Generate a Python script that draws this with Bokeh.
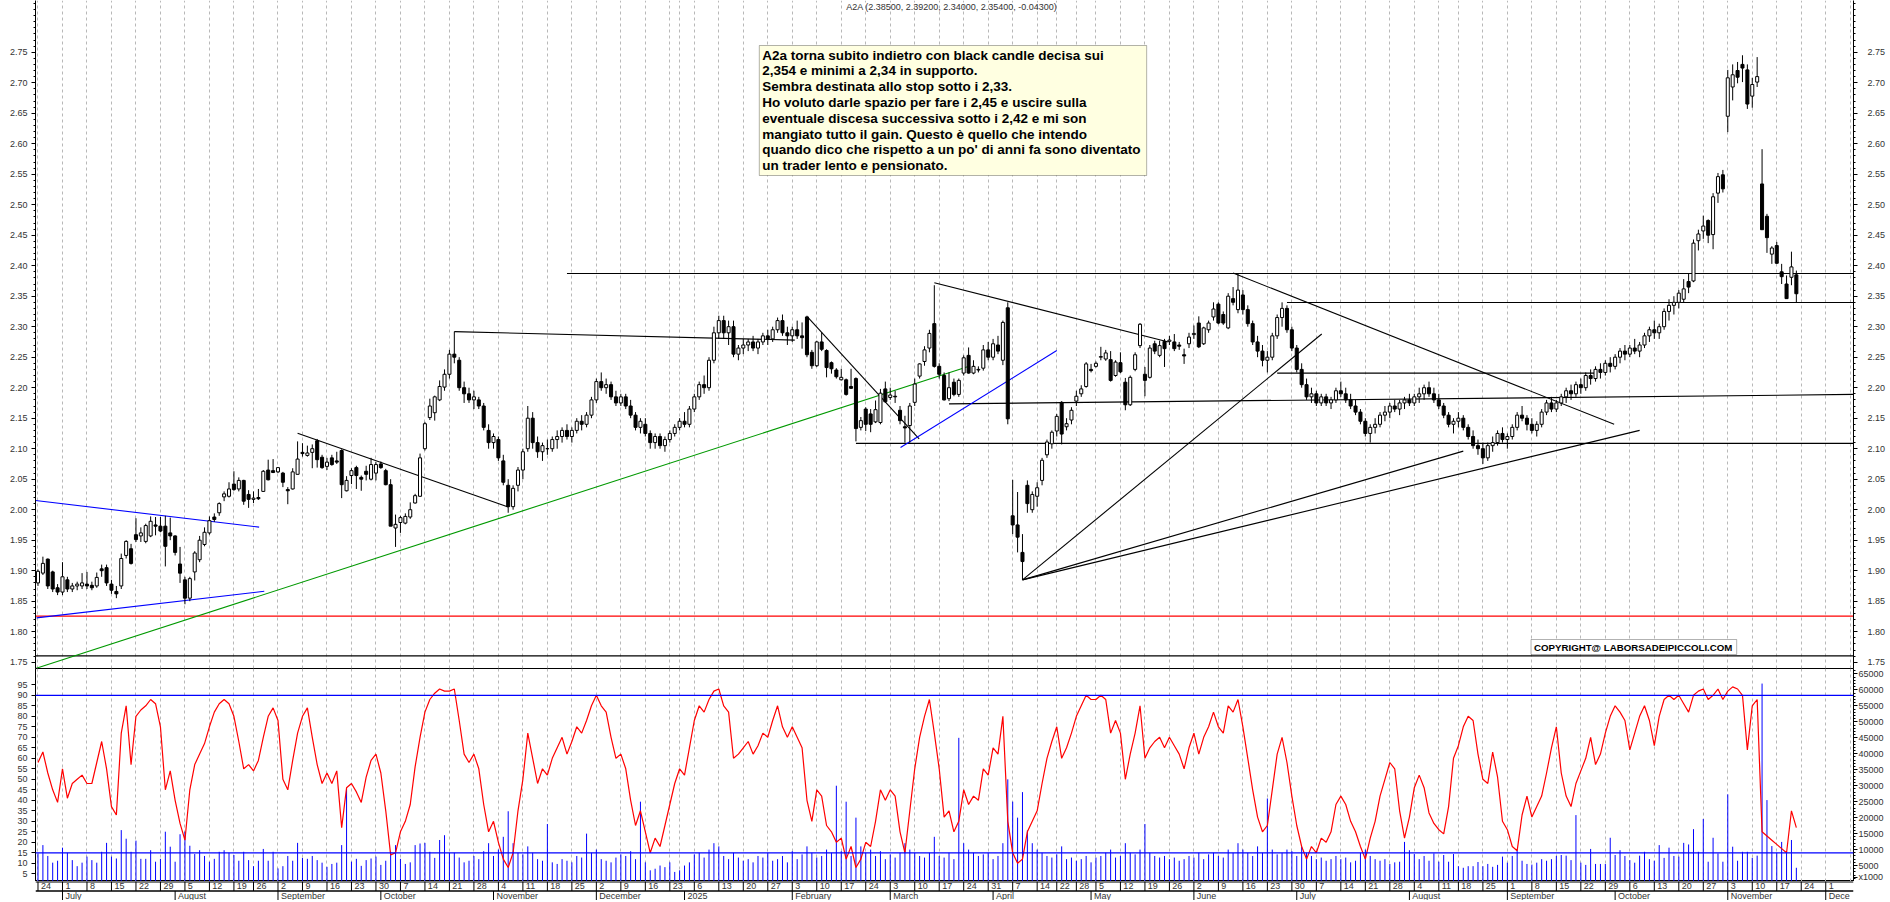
import pandas as pd
from bokeh.plotting import figure
from bokeh.layouts import column
from bokeh.models import (Range1d, LinearAxis, Span, BoxAnnotation, Label, FixedTicker,
                          NumeralTickFormatter, Grid, ColumnDataSource)
from bokeh.embed import file_html
from bokeh.resources import INLINE
from bokeh.core.properties import value

# ---------------- data ----------------
first_day = "2024-06-24"
holidays = ["2024-08-23", "2024-12-24", "2024-12-25", "2024-12-26", "2024-12-31",
            "2025-01-01", "2025-04-18", "2025-04-21", "2025-05-01", "2025-08-15",
            "2025-12-24", "2025-12-25", "2025-12-26"]

opens = [
    1.880, 1.896, 1.919, 1.898, 1.872, 1.865, 1.885, 1.870, 1.875, 1.875,
    1.878, 1.876, 1.875, 1.903, 1.905, 1.878, 1.866, 1.875, 1.925, 1.936,
    1.959, 1.957, 1.948, 1.957, 1.975, 1.973, 1.973, 1.962, 1.957, 1.911,
    1.885, 1.855, 1.898, 1.918, 1.943, 1.962, 1.988, 1.995, 2.021, 2.022,
    2.042, 2.034, 2.048, 2.025, 2.017, 2.020, 2.030, 2.065, 2.064, 2.062,
    2.060, 2.033, 2.034, 2.058, 2.094, 2.089, 2.094, 2.113, 2.086, 2.071,
    2.085, 2.080, 2.097, 2.031, 2.056, 2.069, 2.053, 2.063, 2.050, 2.060,
    2.075, 2.064, 2.041, 1.970, 1.979, 1.978, 1.988, 2.011, 2.022, 2.100,
    2.151, 2.159, 2.180, 2.201, 2.222, 2.255, 2.245, 2.200, 2.190, 2.180,
    2.180, 2.170, 2.130, 2.110, 2.115, 2.080, 2.040, 2.005, 2.040, 2.065,
    2.100, 2.150, 2.110, 2.095, 2.100, 2.100, 2.115, 2.120, 2.130, 2.120,
    2.130, 2.145, 2.140, 2.155, 2.180, 2.210, 2.200, 2.205, 2.185, 2.175,
    2.185, 2.170, 2.155, 2.135, 2.140, 2.125, 2.110, 2.120, 2.105, 2.115,
    2.125, 2.135, 2.145, 2.140, 2.165, 2.185, 2.205, 2.200, 2.245, 2.290,
    2.310, 2.290, 2.300, 2.255, 2.265, 2.270, 2.275, 2.265, 2.275, 2.285,
    2.280, 2.295, 2.310, 2.290, 2.285, 2.295, 2.285, 2.316, 2.258, 2.236,
    2.275, 2.261, 2.241, 2.229, 2.213, 2.213, 2.202, 2.215, 2.135, 2.165,
    2.157, 2.144, 2.143, 2.198, 2.184, 2.186, 2.163, 2.136, 2.138, 2.176,
    2.219, 2.243, 2.265, 2.305, 2.235, 2.220, 2.182, 2.209, 2.189, 2.224,
    2.253, 2.224, 2.229, 2.232, 2.262, 2.250, 2.270, 2.245, 2.331, 1.990,
    1.975, 1.930, 2.040, 2.000, 2.022, 2.048, 2.090, 2.108, 2.129, 2.176,
    2.136, 2.147, 2.178, 2.190, 2.202, 2.230, 2.235, 2.250, 2.247, 2.246,
    2.220, 2.241, 2.209, 2.172, 2.230, 2.269, 2.222, 2.217, 2.272, 2.253,
    2.276, 2.276, 2.275, 2.270, 2.254, 2.272, 2.287, 2.306, 2.272, 2.295,
    2.316, 2.337, 2.320, 2.298, 2.346, 2.328, 2.352, 2.328, 2.305, 2.275,
    2.260, 2.245, 2.250, 2.285, 2.315, 2.330, 2.295, 2.265, 2.230, 2.205,
    2.185, 2.190, 2.175, 2.185, 2.175, 2.180, 2.195, 2.190, 2.180, 2.170,
    2.160, 2.145, 2.125, 2.135, 2.140, 2.155, 2.160, 2.170, 2.165, 2.175,
    2.180, 2.175, 2.185, 2.190, 2.200, 2.190, 2.180, 2.170, 2.155, 2.140,
    2.145, 2.150, 2.135, 2.120, 2.105, 2.100, 2.085, 2.105, 2.110, 2.125,
    2.115, 2.120, 2.135, 2.155, 2.150, 2.140, 2.130, 2.140, 2.160, 2.175,
    2.165, 2.175, 2.185, 2.195, 2.190, 2.205, 2.200, 2.220, 2.215, 2.230,
    2.225, 2.240, 2.235, 2.250, 2.260, 2.255, 2.265, 2.260, 2.270, 2.285,
    2.295, 2.290, 2.300, 2.325, 2.335, 2.340, 2.345, 2.374, 2.375, 2.441,
    2.457, 2.474, 2.451, 2.519, 2.549, 2.645, 2.693, 2.720, 2.730, 2.721,
    2.678, 2.701, 2.534, 2.481, 2.419, 2.433, 2.390, 2.370, 2.381, 2.385]
highs = [
    1.902, 1.923, 1.920, 1.900, 1.878, 1.914, 1.890, 1.880, 1.882, 1.896,
    1.898, 1.882, 1.897, 1.910, 1.910, 1.885, 1.875, 1.928, 1.950, 1.944,
    1.986, 1.971, 1.977, 1.989, 1.988, 1.988, 1.990, 1.987, 1.958, 1.939,
    1.890, 1.890, 1.932, 1.957, 1.971, 1.989, 1.994, 2.012, 2.030, 2.045,
    2.063, 2.053, 2.049, 2.032, 2.030, 2.034, 2.065, 2.082, 2.083, 2.070,
    2.062, 2.037, 2.068, 2.112, 2.109, 2.105, 2.107, 2.116, 2.090, 2.085,
    2.090, 2.095, 2.099, 2.055, 2.068, 2.072, 2.056, 2.072, 2.085, 2.078,
    2.079, 2.067, 2.050, 1.992, 1.990, 1.994, 2.012, 2.026, 2.092, 2.144,
    2.182, 2.187, 2.212, 2.230, 2.262, 2.292, 2.250, 2.210, 2.200, 2.195,
    2.185, 2.175, 2.140, 2.125, 2.120, 2.090, 2.050, 2.040, 2.070, 2.100,
    2.170, 2.160, 2.120, 2.110, 2.115, 2.120, 2.130, 2.135, 2.140, 2.135,
    2.150, 2.155, 2.160, 2.185, 2.215, 2.225, 2.215, 2.210, 2.195, 2.190,
    2.190, 2.180, 2.160, 2.150, 2.150, 2.130, 2.125, 2.125, 2.120, 2.130,
    2.140, 2.150, 2.160, 2.170, 2.190, 2.210, 2.220, 2.250, 2.300, 2.318,
    2.318, 2.310, 2.310, 2.270, 2.280, 2.280, 2.285, 2.280, 2.290, 2.295,
    2.300, 2.315, 2.320, 2.300, 2.300, 2.310, 2.307, 2.318, 2.262, 2.277,
    2.291, 2.263, 2.243, 2.232, 2.231, 2.215, 2.231, 2.217, 2.152, 2.168,
    2.165, 2.179, 2.198, 2.210, 2.200, 2.195, 2.170, 2.154, 2.175, 2.215,
    2.240, 2.268, 2.295, 2.368, 2.240, 2.225, 2.225, 2.215, 2.215, 2.253,
    2.266, 2.245, 2.235, 2.270, 2.275, 2.280, 2.285, 2.310, 2.340, 2.049,
    2.029, 1.960, 2.048, 2.030, 2.045, 2.085, 2.115, 2.130, 2.157, 2.178,
    2.150, 2.168, 2.195, 2.204, 2.242, 2.239, 2.243, 2.267, 2.262, 2.260,
    2.245, 2.258, 2.216, 2.220, 2.258, 2.306, 2.234, 2.270, 2.277, 2.277,
    2.280, 2.285, 2.288, 2.275, 2.264, 2.290, 2.302, 2.317, 2.300, 2.310,
    2.340, 2.340, 2.325, 2.355, 2.365, 2.388, 2.360, 2.335, 2.310, 2.285,
    2.270, 2.260, 2.290, 2.320, 2.340, 2.335, 2.300, 2.270, 2.240, 2.215,
    2.200, 2.195, 2.190, 2.190, 2.185, 2.200, 2.210, 2.200, 2.190, 2.180,
    2.165, 2.150, 2.140, 2.150, 2.160, 2.170, 2.175, 2.180, 2.180, 2.185,
    2.190, 2.190, 2.200, 2.205, 2.210, 2.200, 2.190, 2.175, 2.160, 2.150,
    2.160, 2.155, 2.140, 2.130, 2.115, 2.110, 2.110, 2.120, 2.130, 2.135,
    2.125, 2.140, 2.160, 2.170, 2.155, 2.150, 2.145, 2.165, 2.180, 2.185,
    2.180, 2.190, 2.200, 2.205, 2.210, 2.215, 2.225, 2.230, 2.235, 2.240,
    2.245, 2.250, 2.255, 2.265, 2.270, 2.270, 2.280, 2.275, 2.290, 2.300,
    2.310, 2.305, 2.330, 2.345, 2.350, 2.360, 2.378, 2.388, 2.443, 2.459,
    2.482, 2.476, 2.519, 2.552, 2.557, 2.721, 2.730, 2.734, 2.745, 2.730,
    2.708, 2.742, 2.591, 2.485, 2.432, 2.439, 2.403, 2.384, 2.423, 2.392]
lows = [
    1.875, 1.893, 1.870, 1.865, 1.860, 1.860, 1.865, 1.865, 1.868, 1.870,
    1.870, 1.868, 1.872, 1.890, 1.875, 1.862, 1.855, 1.870, 1.920, 1.910,
    1.947, 1.947, 1.945, 1.955, 1.958, 1.963, 1.907, 1.950, 1.925, 1.880,
    1.845, 1.850, 1.884, 1.914, 1.940, 1.959, 1.980, 1.990, 2.014, 2.020,
    2.031, 2.030, 2.008, 2.003, 2.011, 2.016, 2.029, 2.048, 2.060, 2.060,
    2.037, 2.009, 2.033, 2.058, 2.087, 2.087, 2.068, 2.069, 2.067, 2.065,
    2.072, 2.075, 2.019, 2.030, 2.042, 2.034, 2.031, 2.048, 2.048, 2.048,
    2.067, 2.040, 1.973, 1.939, 1.962, 1.976, 1.985, 2.010, 2.021, 2.097,
    2.147, 2.146, 2.178, 2.195, 2.215, 2.240, 2.195, 2.175, 2.175, 2.165,
    2.165, 2.130, 2.100, 2.100, 2.080, 2.040, 1.995, 2.000, 2.030, 2.050,
    2.095, 2.100, 2.085, 2.080, 2.090, 2.095, 2.100, 2.110, 2.115, 2.110,
    2.125, 2.130, 2.135, 2.150, 2.175, 2.195, 2.190, 2.180, 2.170, 2.170,
    2.165, 2.150, 2.130, 2.125, 2.120, 2.100, 2.100, 2.100, 2.095, 2.110,
    2.120, 2.130, 2.135, 2.135, 2.160, 2.180, 2.190, 2.195, 2.240, 2.280,
    2.280, 2.270, 2.250, 2.245, 2.255, 2.260, 2.260, 2.255, 2.270, 2.270,
    2.275, 2.290, 2.285, 2.270, 2.275, 2.280, 2.264, 2.250, 2.231, 2.234,
    2.260, 2.217, 2.223, 2.215, 2.212, 2.187, 2.198, 2.112, 2.130, 2.129,
    2.127, 2.142, 2.140, 2.175, 2.180, 2.175, 2.140, 2.110, 2.110, 2.170,
    2.215, 2.236, 2.258, 2.233, 2.215, 2.179, 2.178, 2.186, 2.185, 2.220,
    2.223, 2.222, 2.225, 2.228, 2.245, 2.245, 2.255, 2.237, 2.140, 1.960,
    1.930, 1.885, 1.995, 1.995, 2.005, 2.040, 2.085, 2.100, 2.120, 2.107,
    2.130, 2.140, 2.170, 2.185, 2.200, 2.225, 2.233, 2.245, 2.244, 2.210,
    2.218, 2.224, 2.163, 2.170, 2.227, 2.265, 2.186, 2.215, 2.255, 2.250,
    2.234, 2.270, 2.260, 2.262, 2.239, 2.265, 2.280, 2.265, 2.270, 2.290,
    2.310, 2.304, 2.303, 2.296, 2.335, 2.322, 2.320, 2.300, 2.270, 2.250,
    2.235, 2.225, 2.245, 2.280, 2.300, 2.290, 2.260, 2.225, 2.200, 2.180,
    2.175, 2.170, 2.170, 2.170, 2.165, 2.175, 2.185, 2.175, 2.165, 2.155,
    2.140, 2.120, 2.110, 2.125, 2.135, 2.145, 2.150, 2.160, 2.155, 2.165,
    2.170, 2.170, 2.175, 2.180, 2.185, 2.175, 2.165, 2.150, 2.135, 2.125,
    2.135, 2.130, 2.115, 2.100, 2.090, 2.075, 2.080, 2.095, 2.105, 2.110,
    2.100, 2.115, 2.130, 2.145, 2.130, 2.125, 2.120, 2.135, 2.155, 2.160,
    2.160, 2.170, 2.175, 2.180, 2.185, 2.190, 2.195, 2.205, 2.210, 2.215,
    2.220, 2.225, 2.230, 2.240, 2.245, 2.250, 2.255, 2.250, 2.265, 2.275,
    2.280, 2.280, 2.295, 2.310, 2.320, 2.330, 2.340, 2.355, 2.373, 2.425,
    2.444, 2.437, 2.427, 2.503, 2.520, 2.619, 2.671, 2.699, 2.701, 2.657,
    2.659, 2.693, 2.459, 2.421, 2.403, 2.403, 2.370, 2.346, 2.368, 2.340]
closes = [
    1.899, 1.912, 1.875, 1.870, 1.865, 1.890, 1.870, 1.875, 1.878, 1.880,
    1.875, 1.872, 1.889, 1.900, 1.880, 1.868, 1.862, 1.920, 1.948, 1.912,
    1.951, 1.962, 1.974, 1.981, 1.973, 1.965, 1.940, 1.957, 1.930, 1.896,
    1.855, 1.887, 1.929, 1.950, 1.963, 1.982, 1.984, 2.010, 2.026, 2.034,
    2.033, 2.048, 2.014, 2.017, 2.019, 2.018, 2.063, 2.049, 2.061, 2.069,
    2.045, 2.031, 2.062, 2.083, 2.092, 2.093, 2.100, 2.082, 2.069, 2.078,
    2.074, 2.078, 2.041, 2.048, 2.064, 2.056, 2.050, 2.058, 2.074, 2.074,
    2.069, 2.041, 1.973, 1.976, 1.987, 1.989, 2.000, 2.023, 2.085, 2.141,
    2.170, 2.185, 2.202, 2.222, 2.255, 2.250, 2.200, 2.190, 2.180, 2.185,
    2.170, 2.135, 2.110, 2.120, 2.085, 2.045, 2.005, 2.035, 2.065, 2.095,
    2.150, 2.110, 2.095, 2.105, 2.100, 2.115, 2.120, 2.130, 2.120, 2.130,
    2.145, 2.140, 2.155, 2.180, 2.210, 2.200, 2.205, 2.185, 2.175, 2.185,
    2.170, 2.155, 2.135, 2.145, 2.125, 2.110, 2.120, 2.105, 2.115, 2.125,
    2.135, 2.145, 2.140, 2.165, 2.185, 2.205, 2.200, 2.245, 2.290, 2.310,
    2.290, 2.300, 2.255, 2.265, 2.270, 2.275, 2.265, 2.275, 2.285, 2.280,
    2.295, 2.310, 2.290, 2.285, 2.295, 2.285, 2.282, 2.254, 2.236, 2.275,
    2.263, 2.233, 2.231, 2.218, 2.217, 2.189, 2.199, 2.133, 2.146, 2.140,
    2.140, 2.164, 2.191, 2.177, 2.188, 2.185, 2.146, 2.134, 2.170, 2.206,
    2.239, 2.262, 2.289, 2.235, 2.222, 2.180, 2.200, 2.189, 2.212, 2.249,
    2.224, 2.235, 2.230, 2.262, 2.250, 2.272, 2.260, 2.307, 2.149, 1.975,
    1.955, 1.915, 2.010, 2.025, 2.036, 2.081, 2.111, 2.127, 2.153, 2.124,
    2.141, 2.163, 2.186, 2.198, 2.239, 2.228, 2.240, 2.251, 2.257, 2.212,
    2.242, 2.226, 2.172, 2.217, 2.254, 2.304, 2.212, 2.265, 2.260, 2.269,
    2.264, 2.278, 2.264, 2.268, 2.252, 2.283, 2.289, 2.267, 2.298, 2.306,
    2.329, 2.306, 2.306, 2.350, 2.340, 2.360, 2.328, 2.305, 2.275, 2.260,
    2.245, 2.250, 2.285, 2.315, 2.330, 2.295, 2.265, 2.230, 2.205, 2.185,
    2.190, 2.175, 2.185, 2.175, 2.180, 2.195, 2.190, 2.180, 2.170, 2.160,
    2.145, 2.125, 2.135, 2.140, 2.155, 2.160, 2.170, 2.165, 2.175, 2.180,
    2.175, 2.185, 2.190, 2.200, 2.190, 2.180, 2.170, 2.155, 2.140, 2.145,
    2.150, 2.135, 2.120, 2.105, 2.100, 2.085, 2.105, 2.110, 2.125, 2.115,
    2.120, 2.135, 2.155, 2.150, 2.140, 2.130, 2.140, 2.160, 2.175, 2.165,
    2.175, 2.185, 2.195, 2.190, 2.205, 2.200, 2.220, 2.215, 2.230, 2.225,
    2.240, 2.235, 2.250, 2.260, 2.255, 2.265, 2.260, 2.270, 2.285, 2.295,
    2.290, 2.300, 2.325, 2.335, 2.340, 2.355, 2.362, 2.365, 2.437, 2.452,
    2.465, 2.450, 2.513, 2.546, 2.526, 2.708, 2.713, 2.709, 2.724, 2.665,
    2.697, 2.710, 2.459, 2.446, 2.429, 2.404, 2.382, 2.346, 2.398, 2.354]

osc = [
    58, 63, 53, 45, 39, 55, 41, 48, 50, 52, 48, 48, 58, 68, 55, 37, 33, 72, 85, 57,
    80, 83, 85, 88, 86, 75, 45, 54, 40, 29, 21, 45, 57, 62, 67, 75, 82, 86, 88, 86,
    80, 68, 55, 57, 54, 59, 70, 80, 84, 78, 50, 45, 59, 72, 80, 84, 70, 57, 48, 53,
    48, 54, 27, 46, 48, 44, 39, 51, 59, 62, 53, 35, 14, 15, 25, 30, 38, 56, 70, 82,
    88, 91, 93, 92, 92, 93, 78, 62, 58, 62, 55, 38, 25, 30, 20, 12, 8, 15, 35, 50,
    72, 60, 48, 55, 52, 60, 65, 70, 62, 68, 75, 72, 78, 85, 90, 85, 82, 70, 60, 62,
    55, 40, 28, 35, 25, 15, 22, 18, 28, 38, 48, 55, 52, 65, 78, 85, 82, 88, 92, 93,
    85, 82, 60, 62, 65, 68, 62, 66, 72, 70, 78, 85, 75, 70, 75, 70, 65, 40, 30, 45,
    42, 28, 25, 20, 22, 12, 18, 8, 12, 20, 18, 30, 45, 40, 45, 42, 25, 15, 35, 55,
    70, 80, 88, 72, 55, 32, 35, 25, 30, 45, 38, 42, 40, 55, 52, 65, 62, 80, 30, 15,
    10, 12, 25, 30, 35, 48, 60, 68, 75, 60, 65, 72, 80, 85, 90, 88, 88, 90, 88, 72,
    78, 72, 50, 62, 72, 85, 60, 65, 68, 70, 65, 70, 66, 62, 55, 65, 72, 62, 70, 75,
    82, 75, 72, 85, 82, 88, 75, 60, 45, 32, 25, 28, 45, 62, 70, 58, 42, 28, 18, 12,
    18, 15, 22, 20, 25, 38, 42, 38, 30, 25, 18, 12, 22, 30, 42, 50, 58, 55, 35, 22,
    32, 46, 52, 46, 34, 29, 26, 24, 37, 60, 66, 75, 80, 78, 62, 50, 48, 63, 51, 30,
    26, 18, 16, 33, 42, 32, 37, 42, 53, 65, 75, 53, 42, 37, 48, 54, 60, 70, 57, 62,
    72, 80, 85, 82, 78, 64, 72, 80, 85, 78, 66, 80, 88, 90, 88, 90, 86, 82, 90, 92,
    93, 88, 90, 93, 88, 92, 94, 93, 90, 64, 85, 88, 25, 23, 21, 19, 17, 15, 35, 27]

volume = [
    8800, 11400, 8000, 5900, 6500, 10600, 9000, 6700, 4800, 5900,
    7800, 6700, 5900, 9300, 12100, 7800, 7200, 16100, 13400, 9300,
    12800, 7100, 7100, 9800, 6200, 7100, 15600, 10900, 6200, 14800,
    15600, 11200, 8600, 9800, 8000, 6200, 7100, 9300, 9800, 9000,
    8300, 6500, 9300, 6700, 4800, 6500, 10200, 6500, 9300, 4100,
    4800, 8000, 6500, 12100, 7400, 7100, 8000, 6700, 5900, 4600,
    5500, 5900, 11400, 29300, 6200, 7100, 4900, 6700, 7200, 7800,
    5200, 6500, 9300, 11400, 7100, 5500, 6000, 11400, 11900, 12100,
    9300, 7400, 13000, 14500, 9000, 9000, 7500, 6000, 6500, 8000,
    7000, 9500, 12000, 8000, 10000, 14000, 22000, 12000, 9000, 8500,
    11000, 9000, 7000, 6500, 18000, 6000, 5500, 7000, 6500, 6000,
    8000, 7500, 15000, 9000, 10000, 7000, 6500, 6000, 7500, 8500,
    8000, 9500, 7000, 25000, 6000, 3500, 4000, 5000, 4500, 6000,
    3000, 3500, 5000, 6000, 8500, 9000, 7500, 10000, 12000, 11000,
    8000, 7000, 9000, 7500, 6500, 7000, 6000, 8000, 7500, 9000,
    6500, 7000, 8000, 6000, 9500, 7000, 8500, 11000, 9000, 7500,
    8000, 10000, 9000, 30000, 9500, 25000, 8000, 20000, 11000, 9000,
    10000, 8000, 9500, 7000, 8500, 7500, 9000, 12000, 10000, 9000,
    8000, 7500, 9000, 14000, 8000, 7500, 9000, 7000, 45000, 12000,
    10000, 9000, 8000, 8500, 9000, 7000, 8000, 12000, 32000, 25000,
    20000, 28000, 16000, 12000, 10000, 9000, 8000, 7500, 8500, 11000,
    7000, 7500, 6500, 7000, 8000, 6000, 7500, 8000, 9000, 10000,
    7500, 8000, 12000, 9000, 8500, 10000, 18000, 9000, 8000, 7500,
    8000, 7000, 7500, 6500, 7000, 8000, 7500, 9000, 7000, 8500,
    9000, 8000, 7500, 10000, 9000, 12000, 10000, 9000, 8000, 11000,
    9000, 26000, 10000, 8500, 9000, 10000, 9500, 8000, 11000, 9000,
    8000, 7000, 7500, 6500, 7000, 8000, 7000, 7500, 6000, 6500,
    9000, 10000, 8000, 7000, 6500, 7000, 5500, 6000, 6200, 12400,
    9800, 8600, 7000, 8000, 6500, 8800, 6200, 8300, 6200, 8600,
    4800, 4300, 4800, 4800, 6100, 4800, 5500, 4600, 5200, 7800,
    5900, 8000, 9800, 6500, 5500, 5300, 5900, 7000, 6500, 7000,
    8000, 8300, 8100, 6700, 20800, 5900, 5200, 10200, 5500, 5500,
    5500, 13700, 8300, 9800, 8000, 6700, 5900, 8100, 9300, 7000,
    6500, 11400, 7400, 10600, 8000, 7800, 12100, 11600, 16400, 9300,
    19600, 6200, 13700, 8800, 6200, 27300, 10900, 6500, 9300, 9300,
    7400, 8100, 62000, 25500, 11100, 9000, 12400, 9500, 13000, 4300]

title_text = "A2A (2.38500, 2.39200, 2.34000, 2.35400, -0.04300)"
note_lines = [
    "A2a torna subito indietro con black candle decisa sui",
    "2,354 e minimi a 2,34 in supporto.",
    "Sembra destinata allo stop sotto i 2,33.",
    "Ho voluto darle spazio per fare i 2,45 e uscire sulla",
    "eventuale discesa successiva sotto i 2,42 e mi son",
    "mangiato tutto il gain.  Questo è quello che intendo",
    "quando dico che rispetto a un po' di anni fa sono diventato",
    "un trader lento e pensionato.",
]
copyright_text = "COPYRIGHT@ LABORSADEIPICCOLI.COM"
month_names = ["January", "February", "March", "April", "May", "June", "July",
               "August", "September", "October", "November", "December"]

# horizontal / trend lines: (x0, y0, x1, y1, colour); None = panel edge
levels = [(108, 2.3872, None, 2.3872, "black"), (255, 2.3397, None, 2.3397, "black"),
          (253, 2.2240, 318, 2.2240, "black"), (186, 2.1736, None, 2.1889, "black"),
          (167, 2.1088, None, 2.1088, "black"), (None, 1.8254, None, 1.8254, "red"),
          (None, 1.7605, None, 1.7605, "black")]
trends = [(-0.5, 2.0151, 45.15, 1.9714, "#0000ff"),
          (-0.3, 1.8226, 46.2, 1.8662, "#0000ff"),
          (-0.5, 1.7397, 190.1, 2.2350, "#009900"),
          (53.0, 2.1255, 96.0, 2.0045, "black"),
          (85.0, 2.2920, 154.5, 2.2780, "black"),
          (157.1, 2.3160, 179.9, 2.1160, "black"),
          (176.1, 2.1020, 208.0, 2.2610, "#0000ff"),
          (183.0, 2.3720, 230.8, 2.2750, "black"),
          (201.0, 1.8850, 262.1, 2.2880, "black"),
          (201.0, 1.8850, 291.0, 2.0960, "black"),
          (201.0, 1.8850, 327.0, 2.1300, "black"),
          (244.0, 2.3880, 321.8, 2.1400, "black")]
osc_levels = [90, 15]

# ---------------- calendar ----------------
days = pd.bdate_range(first_day, "2025-12-31")
days = days[~days.isin(pd.to_datetime(holidays))]
n = len(closes)
idx = list(range(n))

def px2i(px):
    return (px - 37.5) / 4.906

def py2p(py):
    return 2.75 - (py - 51.7) / 610.0

XL, XR = px2i(35), px2i(1856)

week_pos, week_lab, grid_pos = [], [], []
iso = [(d.isocalendar()[0], d.isocalendar()[1]) for d in days]
for i, d in enumerate(days):
    if i > XR:
        break
    if i == 0 or iso[i] != iso[i - 1]:
        grid_pos.append(i)
        j = i
        while j + 1 < len(days) and iso[j + 1] == iso[i]:
            j += 1
        if days[j].year != d.year:
            continue
        lab = str(d.day)
        if (XR - i - 0.6) * 4.9 < 6 * len(lab):
            continue
        week_pos.append(i)
        week_lab.append(lab)
month_pos, month_lab = [], []
for i, d in enumerate(days):
    if i > XR:
        break
    if i > 0 and d.month != days[i - 1].month:
        lab = str(d.year) if d.month == 1 else month_names[d.month - 1]
        room = int((XR - i - 0.6) * 4.9 / 5.0)
        month_pos.append(i)
        month_lab.append(lab[:max(room, 1)])

# ---------------- styling helpers ----------------
W = 1888
BL, BR = 35, 32
FONT = "Liberation Sans"
TXT = "#333333"

def style_axis(ax, size="9px"):
    ax.major_label_text_font = FONT
    ax.major_label_text_font_size = size
    ax.major_label_text_color = TXT
    ax.axis_line_color = "black"
    ax.major_tick_line_color = "black"
    ax.minor_tick_line_color = "black"
    ax.major_tick_in = 0
    ax.minor_tick_in = 0
    ax.major_tick_out = 4
    ax.minor_tick_out = 2

# ---------------- price panel ----------------
p = figure(width=W, height=668, x_range=Range1d(XL, XR), y_range=Range1d(py2p(668), py2p(0)),
           output_backend="svg", toolbar_location=None, min_border_left=BL, min_border_right=BR,
           min_border_top=0, min_border_bottom=0, x_axis_type=None, y_axis_type=None)
p.outline_line_color = None
p.xgrid.visible = False
p.ygrid.visible = False
p.add_layout(Grid(dimension=0, ticker=FixedTicker(ticks=grid_pos), grid_line_color="#b8b8b8",
                  grid_line_dash="3 3", grid_line_width=1))
price_ticks = [round(1.75 + 0.05 * k, 2) for k in range(21)]
minor = [round(1.74 + 0.01 * k, 2) for k in range(110)]
for side in ("left", "right"):
    ax = LinearAxis(ticker=FixedTicker(ticks=price_ticks, minor_ticks=minor),
                    formatter=NumeralTickFormatter(format="0.00"))
    style_axis(ax)
    ax.major_label_standoff = 4 if side == "left" else 10
    p.add_layout(ax, side)

for (x0, y0, x1, y1, col) in levels:
    x0 = XL if x0 is None else x0
    x1 = XR if x1 is None else x1
    p.segment(x0=[x0], y0=[y0], x1=[x1], y1=[y1], line_color=col, line_width=1.2)
for (x0, y0, x1, y1, col) in trends:
    p.segment(x0=[x0], y0=[y0], x1=[x1], y1=[y1], line_color=col, line_width=1.1)

up = [c >= o for o, c in zip(opens, closes)]
src = ColumnDataSource(dict(x=idx, o=opens, h=highs, l=lows, c=closes,
                            top=[max(o, c) for o, c in zip(opens, closes)],
                            bot=[min(o, c) for o, c in zip(opens, closes)],
                            fill=["white" if u else "black" for u in up]))
p.segment(x0="x", y0="l", x1="x", y1="h", source=src, line_color="black", line_width=1)
p.vbar(x="x", top="top", bottom="bot", width=0.62, source=src, fill_color="fill",
       line_color="black", line_width=1)

p.add_layout(Label(x=px2i(847), y=py2p(1), text=title_text, text_font=FONT,
                   text_font_size="9px", text_color=TXT, text_baseline="top"))
p.add_layout(BoxAnnotation(left=px2i(760), right=px2i(1148), top=py2p(45), bottom=py2p(175),
                           fill_color="#ffffe1", fill_alpha=1, line_color="black", line_width=1))
for k, t in enumerate(note_lines):
    p.add_layout(Label(x=px2i(763), y=py2p(47 + 15.8 * k), text=t, text_font=FONT,
                       text_font_size="13.5px", text_font_style="bold", text_color="black",
                       text_baseline="top"))
p.add_layout(BoxAnnotation(left=px2i(1533), right=px2i(1739), top=py2p(639), bottom=py2p(654),
                           fill_color="white", fill_alpha=1, line_color="black", line_width=1))
p.add_layout(Label(x=px2i(1536), y=py2p(641), text=copyright_text, text_font=FONT,
                   text_font_size="9.7px", text_font_style="bold", text_color="black",
                   text_baseline="top"))

# ---------------- oscillator / volume panel ----------------
def oy(py):
    return (883.8 - py) / 2.1

q = figure(width=W, height=213, x_range=p.x_range, y_range=Range1d(oy(881), oy(668)),
           output_backend="svg", toolbar_location=None, min_border_left=BL, min_border_right=BR,
           min_border_top=0, min_border_bottom=0, x_axis_type=None, y_axis_type=None)
q.extra_y_ranges = {"vol": Range1d(0, (881.5 - 668) * 312.5)}
q.outline_line_color = "black"
q.xgrid.visible = False
q.ygrid.visible = False
q.add_layout(Grid(dimension=0, ticker=FixedTicker(ticks=grid_pos), grid_line_color="#b8b8b8",
                  grid_line_dash="3 3", grid_line_width=1))
axl = LinearAxis(ticker=FixedTicker(ticks=list(range(5, 100, 5))))
style_axis(axl)
axl.major_label_standoff = 4
q.add_layout(axl, "left")
vol_ticks = [1300] + list(range(5000, 66000, 5000))
axr = LinearAxis(y_range_name="vol",
                 ticker=FixedTicker(ticks=vol_ticks, minor_ticks=list(range(1000, 67000, 1000))),
                 formatter=NumeralTickFormatter(format="0"),
                 major_label_overrides={1300: "x1000"})
style_axis(axr)
axr.major_label_standoff = 1
q.add_layout(axr, "right")
q.segment(x0=idx, y0=[0] * n, x1=idx, y1=volume, y_range_name="vol", line_color="#0000ff",
          line_width=1)
for lv in osc_levels:
    q.add_layout(Span(location=lv, dimension="width", line_color="#0000ff", line_width=1.2))
q.line(idx, osc, line_color="#ff0000", line_width=1.2)

# ---------------- date axis strip ----------------
s = figure(width=W, height=19, x_range=p.x_range, y_range=Range1d(0, 2),
           output_backend="svg", toolbar_location=None, min_border_left=BL, min_border_right=BR,
           min_border_top=0, min_border_bottom=0, x_axis_type=None, y_axis_type=None)
s.outline_line_color = None
s.xgrid.visible = False
s.ygrid.visible = False
s.segment(x0=[XL, XL], y0=[1.97, 1], x1=[XR, XR], y1=[1.97, 1], line_color="black", line_width=1.5)
s.segment(x0=week_pos, y0=[1] * len(week_pos), x1=week_pos, y1=[2] * len(week_pos),
          line_color="black", line_width=1)
s.segment(x0=month_pos, y0=[0] * len(month_pos), x1=month_pos, y1=[1] * len(month_pos),
          line_color="black", line_width=1)
s.text(x=[w + 0.6 for w in week_pos], y=[1.48] * len(week_pos), text=week_lab,
       text_font=value(FONT), text_font_size="9px", text_color=TXT, text_baseline="middle")
s.text(x=[m + 0.6 for m in month_pos], y=[0.48] * len(month_pos), text=month_lab,
       text_font=value(FONT), text_font_size="9px", text_color=TXT, text_baseline="middle")

layout = column(p, q, s, spacing=0)
open("out.html", "w").write(file_html(layout, INLINE))
